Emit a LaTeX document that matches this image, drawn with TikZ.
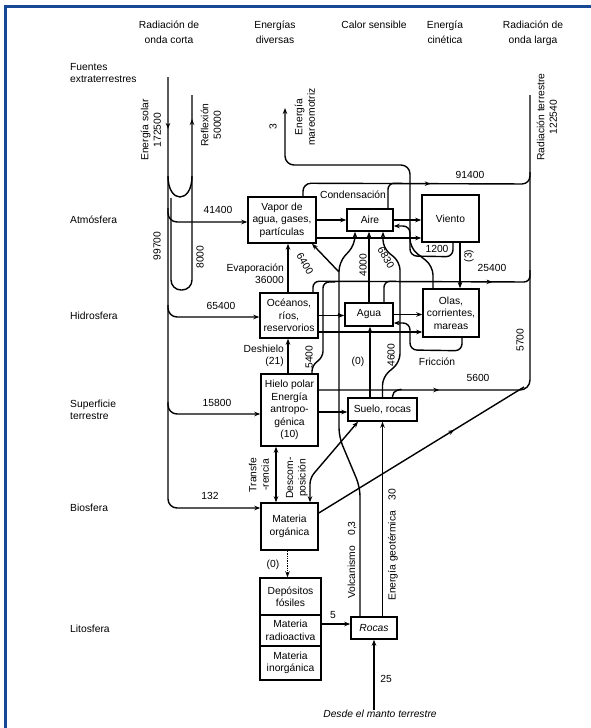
\documentclass[tikz,border=0pt]{standalone}
\usepackage{fontspec}
\setmainfont{Liberation Sans}
\usetikzlibrary{arrows.meta,decorations.markings}
\definecolor{frameblue}{RGB}{22,72,150}
\newcommand{\lbfont}{\fontsize{10.3}{12.5}\selectfont}

\tikzset{
  box/.style={draw, line width=1.5pt, rectangle, inner sep=1pt, align=center, font=\lbfont},
  ln/.style={line width=1.4pt},
  flow/.style={ln, -{Stealth[length=6pt,width=4.5pt]}},
  midarr/.style={postaction={decorate}, decoration={markings, mark=at position #1 with {\arrow{Stealth[length=6pt,width=4.5pt]}}}},
  txt/.style={font=\lbfont, inner sep=0pt, align=center},
  hdr/.style={txt, font={\fontsize{10.3}{15}\selectfont}, anchor=north},
  jdot/.style={circle, fill, inner sep=0pt, minimum size=3.5pt},
}

\begin{document}
\begin{tikzpicture}[x=1pt, y=-1pt]
\useasboundingbox (0,0) rectangle (591,728);
\draw[frameblue, line width=3pt] (5,728) -- (5,6) -- (591,6);

% column titles
\node[hdr] (hsw) at (169,21) {Radiación de\\onda corta};
\node[hdr] (hdiv) at (275,21) {Energías\\diversas};
\node[hdr] (hcal) at (374,21) {Calor sensible};
\node[hdr] (hkin) at (445,21) {Energía\\cinética};
\node[hdr] (hlw) at (533,21) {Radiación de\\onda larga};

% row titles
\node[txt, anchor=west, align=left] (rext) at (70,73) {Fuentes\\extraterrestres};
\node[txt, anchor=west] (ratm) at (70,220) {Atmósfera};
\node[txt, anchor=west] (rhid) at (70,316) {Hidrosfera};
\node[txt, anchor=west, align=left] (rsup) at (70,410) {Superficie\\terrestre};
\node[txt, anchor=west] (rbio) at (70,508) {Biosfera};
\node[txt, anchor=west] (rlit) at (70,629) {Litosfera};

% boxes
\node[box, minimum width=68pt, minimum height=46pt] (vapor) at (282,220) {Vapor de\\agua, gases,\\partículas};
\node[box, minimum width=46pt, minimum height=22pt] (aire) at (370,220) {Aire};
\node[box, minimum width=57pt, minimum height=47pt] (viento) at (450.5,218.5) {Viento};
\node[box, minimum width=58pt, minimum height=45pt] (oceanos) at (289,315.5) {Océanos,\\ríos,\\reservorios};
\node[box, minimum width=48pt, minimum height=23pt] (agua) at (369,314.5) {Agua};
\node[box, minimum width=56pt, minimum height=48pt] (olas) at (451,313) {Olas,\\corrientes,\\mareas};
\node[box, minimum width=57pt, minimum height=72pt] (hielo) at (289.5,410) {Hielo polar\\Energía\\antropo-\\génica\\(10)};
\node[box, minimum width=69pt, minimum height=23pt] (suelo) at (382.5,409.5) {Suelo, rocas};
\node[box, minimum width=57pt, minimum height=47pt] (materia) at (289.5,526.5) {Materia\\orgánica};
\node[box, minimum width=61pt, minimum height=37pt] (fosiles) at (290.5,596.5) {Depósitos\\fósiles};
\node[box, minimum width=61pt, minimum height=31pt] (radio) at (290.5,630.5) {Materia\\radioactiva};
\node[box, minimum width=61pt, minimum height=34pt] (inorg) at (290.5,663) {Materia\\inorgánica};
\node[box, minimum width=46pt, minimum height=22pt, font=\lbfont\itshape] (rocas) at (374,628) {Rocas};
\node[txt, font=\lbfont\itshape] (manto) at (380,714) {Desde el manto terrestre};

% short wave radiation
\coordinate (sol) at (168,77);
\coordinate (refl) at (192,95);
\coordinate (u0) at (168,176);
\coordinate (l8) at (171,198);
\coordinate (b1) at (168,208);
\coordinate (b2) at (168,305);
\coordinate (b3) at (168,402);
\draw[flow, rounded corners=9pt, midarr=0.1] (sol) |- ([yshift=18.5pt]materia.west);
\draw[ln] (u0) .. controls (168,204) and (192,204) .. (192,176);
\draw[ln, rounded corners=10pt, midarr=0.92] (l8) -- (171,290) -- (192,290) -- (refl);
\draw[flow, rounded corners=9pt] (b1) |- ([yshift=-2pt]vapor.west);
\draw[flow, rounded corners=9pt] (b2) |- ([yshift=-1.5pt]oceanos.west);
\draw[flow, rounded corners=9pt] (b3) |- ([yshift=-4pt]hielo.west);
\node[txt, rotate=90] (lsol) at (151,130) {Energía solar\\172500};
\node[txt, rotate=90] (lrefl) at (211,125) {Reflexión\\50000};
\node[txt, rotate=90] (l99) at (157,246) {99700};
\node[txt, rotate=90] (l80) at (200,257) {8000};
\node[txt] (l41) at (218,210) {41400};
\node[txt] (l65) at (221,306) {65400};
\node[txt] (l15) at (217,403) {15800};
\node[txt] (l13) at (210,496) {132};

% tidal energy
\coordinate (tide) at (285,108);
\draw[flow, {Stealth[length=6pt,width=4.5pt]}-, rounded corners=9pt] (tide) -- (285,165) -- (410,165) -- (410,248) -- (433,266) -- ([xshift=-18pt]olas.north);
\node[txt, rotate=90] (l3) at (273,127) {3};
\node[txt, rotate=90] (lmar) at (305,117) {Energía\\mareomotriz};

% long wave radiation
\coordinate (lw) at (530,95);
\coordinate (lwfoot) at (524,387);
\draw[ln, rounded corners=10pt, midarr=0.24] ([yshift=20pt]hielo.east) -- (530,390) -- (lw);
\draw[ln, midarr=0.66] ([yshift=13.5pt]materia.east) -- (lwfoot);
\draw[ln, rounded corners=5pt] ([xshift=10pt]suelo.north) -- ++(0,-6) -- ++(9,-2);
\draw[ln, rounded corners=8pt, midarr=0.56] ([xshift=21pt]vapor.north) -- ++(0,-13) -- (530,184) -- (530,172);
\draw[ln, rounded corners=6pt] ([xshift=18pt]aire.north) -- ++(0,-25) -- ++(14,0);
\draw[ln, rounded corners=6pt, midarr=0.8] ([xshift=24pt]oceanos.north) -- ++(0,-11) -- (530,282) -- (530,270);
\draw[ln, rounded corners=6pt] ([xshift=15pt]agua.north) -- ++(0,-21) -- ++(12,0);
\draw[ln, rounded corners=6pt] ([xshift=22.5pt]hielo.north) -- ++(0,-8) -- ++(11,-8) -- (323,282) -- (335,282);
\node[txt, rotate=90] (lterr) at (547,117) {Radiación terrestre\\122540};
\node[txt] (l91) at (470,175) {91400};
\node[txt] (l25) at (492,268) {25400};
\node[txt] (l56) at (478,378) {5600};
\node[txt, rotate=90] (l57) at (520,340) {5700};
\node[txt, rotate=90] (l54) at (309,357) {5400};

% atmosphere and hydrosphere exchanges
\draw[flow] (vapor) -- (aire);
\draw[flow] (aire.east) -- (aire.east -| viento.west);
\draw[flow] ([yshift=-18pt]vapor.east) -- ([yshift=-18pt]vapor.east -| viento.west);
\draw[flow, rounded corners=7pt] ([xshift=2.5pt]viento.south) -- ++(0,14) -- (410,256) -- (410,226) -- ([yshift=-6pt]aire.east);
\draw[flow] ([xshift=9.5pt]viento.south) -- ([xshift=9pt]olas.north);
\draw[flow] (oceanos.east) -- (oceanos.east -| agua.west);
\draw[flow] ([yshift=-16.5pt]oceanos.east) -- ([yshift=-16.5pt]oceanos.east -| olas.west);
\draw[flow] (agua.east) -- (agua.east -| olas.west);
\draw[flow, rounded corners=7pt] ([xshift=11pt]olas.south) -- ++(0,13) -- (410,350) -- (410,323) -- ([yshift=-8.5pt]agua.east);
\draw[flow] ([xshift=-1pt]oceanos.north) -- ([xshift=-1pt]oceanos.north |- vapor.south);
\draw[flow] ([xshift=-1.5pt]hielo.north) -- ([xshift=-1.5pt]hielo.north |- oceanos.south);
\draw[flow] (agua.north) -- (agua.north |- aire.south);
\draw[flow] ([xshift=-12.5pt]suelo.north) -- ([xshift=-12.5pt]suelo.north |- agua.south);
\draw[flow, rounded corners=8pt] (suelo.north) -- ++(0,-20) -- (400,362) -- (400,262) -- (383,248) -- ([xshift=13pt]aire.south);
\draw[flow, rounded corners=9pt] ([xshift=-14pt]rocas.north) -- (360,487) -- (339,437) -- (339,262) -- (355,245) -- ([xshift=-15pt]aire.south);
\coordinate (e64) at (339,272);
\draw[flow] (e64) -- ([xshift=30pt]vapor.south);
\node[txt] (lcond) at (353,195) {Condensación};
\node[txt, anchor=east, align=right] (levap) at (284,274) {Evaporación\\36000};
\node[txt, anchor=east, align=right] (ldesh) at (284,356) {Deshielo\\(21)};
\node[txt] (l12) at (437,249) {1200};
\node[txt, rotate=90] (lp3) at (469,256) {(3)};
\node[txt] (lfric) at (437,362) {Fricción};
\node[txt, rotate=90] (l40) at (363,265) {4000};
\node[txt, rotate=90] (l46) at (391,355) {4600};
\node[txt] (l0a) at (358,362) {(0)};
\node[txt, rotate=-60] (l64) at (305,264) {6400};
\node[txt, rotate=-60] (l68) at (386,258) {6830};
\node[jdot] (d1) at (339,315) {};
\node[jdot] (d2) at (370,332) {};
\node[jdot] (d3) at (460,282) {};

% surface, biosphere, lithosphere
\draw[flow] ([yshift=-2pt]hielo.east) -- ([yshift=-2pt]hielo.east -| suelo.west);
\draw[ln, {Stealth[length=6pt,width=4.5pt]}-{Stealth[length=6pt,width=4.5pt]}] ([xshift=-13.5pt]materia.north) -- ([xshift=-13.5pt]hielo.south);
\draw[ln, {Stealth[length=6pt,width=4.5pt]}-{Stealth[length=6pt,width=4.5pt]}, rounded corners=6pt] ([xshift=-24.5pt]suelo.south) -- (310,478) -- ([xshift=20.5pt]materia.north);
\draw[flow, densely dotted] ([xshift=-2pt]materia.south) -- ([xshift=-2pt]materia.south |- fosiles.north);
\draw[flow] ([yshift=6.5pt]radio.east) -- ([yshift=6.5pt]radio.east -| rocas.west);
\draw[flow] (manto.north -| rocas.south) -- (rocas.south);
\draw[flow] ([xshift=8.5pt]rocas.north) -- (suelo.south);
\node[txt, rotate=90, align=center] (ltr) at (259,475) {Transfe\\-rencia};
\node[txt, rotate=90, align=center] (ldes) at (297,478) {Descom-\\posición};
\node[txt] (l0b) at (273,565) {(0)};
\node[txt] (l5) at (333,615) {5};
\node[txt] (l25b) at (386,679) {25};
\node[txt, rotate=90] (lvol) at (352,560) {Volcanismo\quad 0,3};
\node[txt, rotate=90] (lgeo) at (393,545) {Energía geotérmica\quad 30};
\end{tikzpicture}
\end{document}
